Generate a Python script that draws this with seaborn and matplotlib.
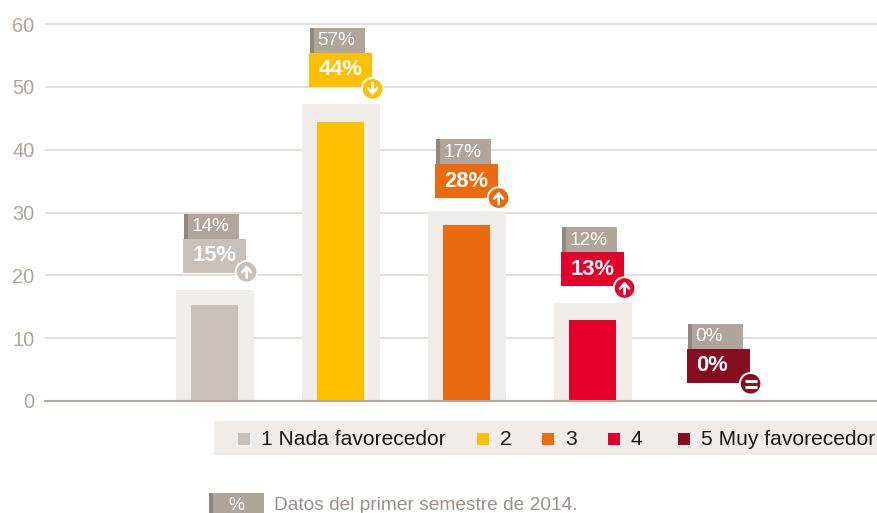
import matplotlib
matplotlib.use("Agg")
import matplotlib.pyplot as plt
from matplotlib.patches import Rectangle, Circle
import seaborn as sns
import pandas as pd

# chart values
categories = ["1 Nada favorecedor", "2", "3", "4", "5 Muy favorecedor"]
values = [15.3, 44.4, 28.0, 12.9, 0.0]
backdrop = [17.7, 47.3, 30.2, 15.6, 0.0]
labels_now = ["15%", "44%", "28%", "13%", "0%"]
labels_prev = ["14%", "57%", "17%", "12%", "0%"]
trend = ["up", "down", "up", "up", "same"]
tag_base = [20.4, 50.0, 32.3, 18.3, 2.9]
colors = ["#c8c0ba", "#fdc000", "#eb6a0e", "#e4002b", "#850d1f"]
yticks = [0, 10, 20, 30, 40, 50, 60]
note = "Datos del primer semestre de 2014."

W, H = 878, 513
GREY = "#afa59b"
STRIP = "#8f8780"
PALE = "#efecea"

sns.set_theme(style="white")
plt.rcParams["font.family"] = ["Liberation Sans", "DejaVu Sans"]

fig = plt.figure(figsize=(W / 100, H / 100), dpi=100, facecolor="white")
ax = fig.add_axes([45 / W, (H - 401) / H, (W - 45) / W, 385 / H])

df = pd.DataFrame({"cat": categories, "val": values, "back": backdrop})
sns.barplot(data=df, x="cat", y="back", color=PALE, saturation=1, width=0.612, linewidth=0, ax=ax, zorder=2)
sns.barplot(data=df, x="cat", y="val", hue="cat", palette=colors, saturation=1, dodge=False,
            legend=False, width=0.373, linewidth=0, ax=ax, zorder=3)

ax.set_xlim(-1.349, 5.262)
ax.set_ylim(0, 385 / 6.283)
ax.set_xlabel("")
ax.set_ylabel("")
ax.set_xticks([])
ax.set_yticks(yticks)
ax.yaxis.grid(True, color="#e3ded9", linewidth=1.5, zorder=1)
ax.set_axisbelow(True)
ax.tick_params(axis="y", length=0, pad=7.5, labelsize=14.4, labelcolor=GREY)
sns.despine(ax=ax, left=True, top=True, right=True)
ax.spines["bottom"].set_color("#b0a69c")
ax.spines["bottom"].set_linewidth(1.5)
ax.spines["bottom"].set_zorder(5)

# overlay in pixel coordinates for tags, legend and footer
over = fig.add_axes([0, 0, 1, 1], facecolor="none")
over.set_xlim(0, W)
over.set_ylim(H, 0)
over.axis("off")


def box(x0, y0, x1, y1, color, z=5):
    over.add_patch(Rectangle((x0, y0), x1 - x0, y1 - y0, facecolor=color, edgecolor="none", zorder=z))


def draw_trend(cx, cy, kind):
    if kind == "same":
        for dy in (-3, 3):
            over.plot([cx - 6, cx + 6], [cy + dy, cy + dy], color="white", lw=2.2, solid_capstyle="butt", zorder=9)
        return
    sign = -1 if kind == "up" else 1
    over.annotate("", xy=(cx, cy + sign * 6.5), xytext=(cx, cy - sign * 6),
                  arrowprops=dict(arrowstyle="->,head_width=0.27,head_length=0.3", color="white", lw=1.9,
                                  shrinkA=0, shrinkB=0), zorder=9)


circle_dy = [-1, 2, 0, 2, 1]
for i in range(len(categories)):
    px, py = ax.transData.transform((i, tag_base[i]))
    bottom = H - py
    left = px - 32.4
    box(left + 1, bottom - 59, left + 56, bottom - 34, GREY)
    box(left + 1, bottom - 59, left + 5, bottom - 34, STRIP, 6)
    over.text(left + 9, bottom - 46, labels_prev[i], color="white", fontsize=13.7, ha="left", va="center", zorder=7)
    box(left, bottom - 34, left + 63, bottom, colors[i])
    over.text(left + 10, bottom - 17, labels_now[i], color="white", fontsize=15.8, fontweight="bold",
              ha="left", va="center", zorder=7)
    over.add_patch(Circle((left + 64, bottom + circle_dy[i]), 10.8, facecolor=colors[i], edgecolor="white",
                          linewidth=1.4, zorder=8))
    draw_trend(left + 64, bottom + circle_dy[i], trend[i])

# legend strip
box(214, 421, W, 455, PALE, 2)
swatch_x = [238, 477, 542, 608, 678]
for i in range(len(categories)):
    box(swatch_x[i], 433, swatch_x[i] + 12, 445, colors[i], 3)
    over.text(swatch_x[i] + 23, 439.5, categories[i], color="#1a1a1a", fontsize=15.1, ha="left", va="center", zorder=3)

# footer note
box(209, 493, 264, H, GREY)
box(209, 493, 213, H, STRIP, 6)
over.text(236.5, 506, "%", color="white", fontsize=13, ha="center", va="center", zorder=7)
over.text(274, 505, note, color="#9a9088", fontsize=13.8, ha="left", va="center")

fig.savefig("out.png", dpi=100)
